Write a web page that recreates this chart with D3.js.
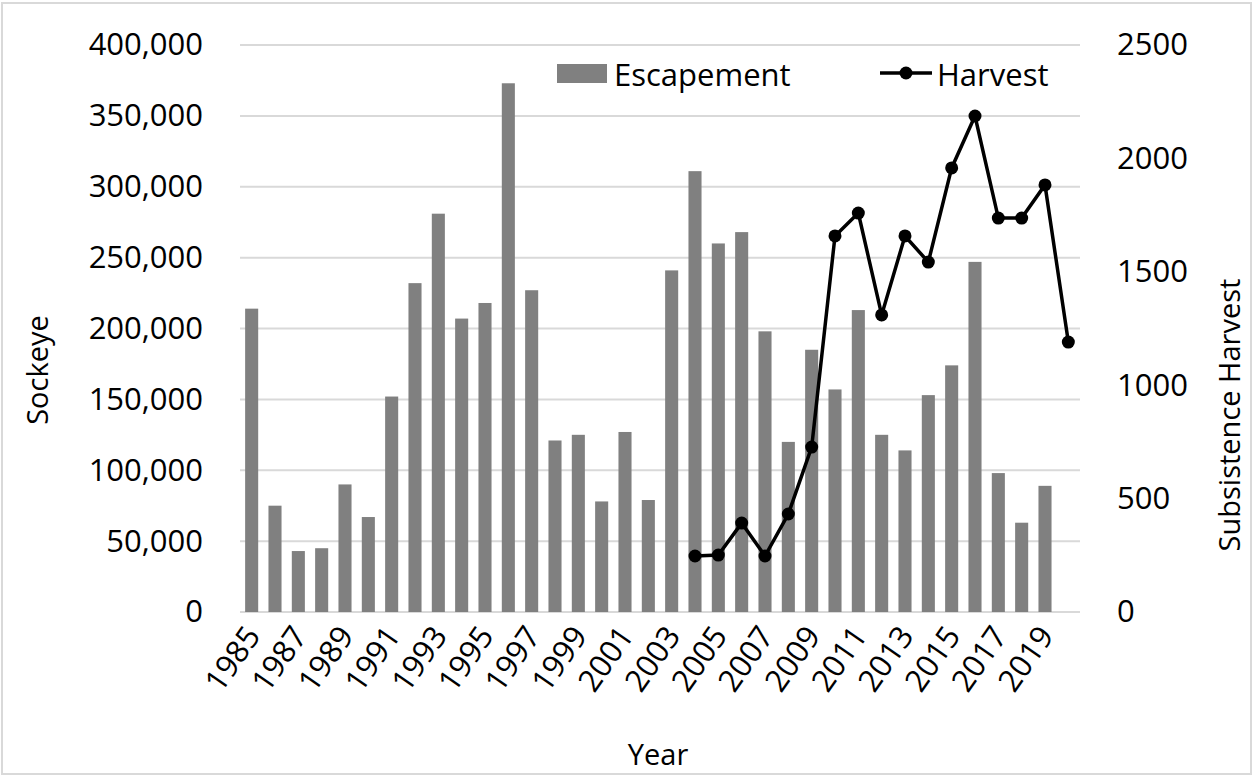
<!DOCTYPE html>
<html>
<head>
<meta charset="utf-8">
<script src="https://cdn.jsdelivr.net/npm/d3@7"></script>
<style>
  body { margin: 0; background: #fff; }
  svg { font-family: "Open Sans", "Noto Sans", sans-serif; }
</style>
</head>
<body>
<svg width="1255" height="778"></svg>
<script>
var years = d3.range(1985, 2021);
var escapement = [214000, 75000, 43000, 45000, 90000, 67000, 152000, 232000, 281000, 207000,
                  218000, 373000, 227000, 121000, 125000, 78000, 127000, 79000, 241000, 311000,
                  260000, 268000, 198000, 120000, 185000, 157000, 213000, 125000, 114000, 153000,
                  174000, 247000, 98000, 63000, 89000, null];
var harvestYears = [2004, 2005, 2006, 2007, 2008, 2009, 2010, 2011, 2012, 2013, 2014, 2015, 2016, 2017, 2018, 2019, 2020];
var harvest = [247, 251, 392, 247, 432, 727, 1658, 1759, 1310, 1658, 1543, 1958, 2187, 1737, 1737, 1883, 1190];
var leftTicks = [0, 50000, 100000, 150000, 200000, 250000, 300000, 350000, 400000];
var rightTicks = [0, 500, 1000, 1500, 2000, 2500];

var margin = {left: 240, right: 1080, top: 45, bottom: 612};
var fontSize = 31;

var svg = d3.select('svg');

svg.append('rect')
    .attr('x', 2).attr('y', 3).attr('width', 1249).attr('height', 771)
    .attr('fill', 'none').attr('stroke', '#d9d9d9').attr('stroke-width', 2);

var x = d3.scaleBand()
    .domain(years)
    .range([margin.left, margin.right])
    .paddingInner(0.44)
    .paddingOuter(0.22);

var yL = d3.scaleLinear().domain([0, 400000]).range([margin.bottom, margin.top]);
var yR = d3.scaleLinear().domain([0, 2500]).range([margin.bottom, margin.top]);

// gridlines
svg.append('g')
  .selectAll('line')
  .data(leftTicks)
  .enter().append('line')
    .attr('x1', margin.left).attr('x2', margin.right)
    .attr('y1', function(d) { return yL(d); })
    .attr('y2', function(d) { return yL(d); })
    .attr('stroke', '#d9d9d9')
    .attr('stroke-width', 2);

// left axis
var leftAxis = d3.axisLeft(yL)
    .tickValues(leftTicks)
    .tickSize(0)
    .tickPadding(37)
    .tickFormat(d3.format(','));
svg.append('g')
    .attr('transform', 'translate(' + margin.left + ',0)')
    .call(leftAxis)
    .call(function(g) { g.select('.domain').remove(); })
    .selectAll('text')
      .attr('font-size', fontSize)
      .attr('fill', '#000')
      .attr('font-family', '"Open Sans", sans-serif');

// right axis
var rightAxis = d3.axisRight(yR)
    .tickValues(rightTicks)
    .tickSize(0)
    .tickPadding(37)
    .tickFormat(d3.format('d'));
svg.append('g')
    .attr('transform', 'translate(' + margin.right + ',0)')
    .call(rightAxis)
    .call(function(g) { g.select('.domain').remove(); })
    .selectAll('text')
      .attr('font-size', fontSize)
      .attr('fill', '#000')
      .attr('font-family', '"Open Sans", sans-serif');

// bars
svg.append('g')
  .selectAll('rect')
  .data(years.map(function(y, i) { return {year: y, value: escapement[i]}; })
              .filter(function(d) { return d.value != null; }))
  .enter().append('rect')
    .attr('x', function(d) { return x(d.year); })
    .attr('width', x.bandwidth())
    .attr('y', function(d) { return yL(d.value); })
    .attr('height', function(d) { return yL(0) - yL(d.value); })
    .attr('fill', '#808080');

// x axis labels
var xAxis = d3.axisBottom(x)
    .tickValues(years.filter(function(y) { return (y - 1985) % 2 === 0; }))
    .tickSize(0)
    .tickPadding(0);
svg.append('g')
    .attr('transform', 'translate(0,' + margin.bottom + ')')
    .call(xAxis)
    .call(function(g) { g.select('.domain').remove(); })
    .selectAll('text')
      .attr('font-size', fontSize)
      .attr('fill', '#000')
      .attr('font-family', '"Open Sans", sans-serif')
      .attr('text-anchor', 'end')
      .attr('dy', 0)
      .attr('transform', 'translate(10,24) rotate(-55)');

// harvest line
var data2 = harvestYears.map(function(y, i) { return {year: y, value: harvest[i]}; });
var line = d3.line()
    .x(function(d) { return x(d.year) + x.bandwidth() / 2; })
    .y(function(d) { return yR(d.value); });

svg.append('path')
    .datum(data2)
    .attr('d', line)
    .attr('fill', 'none')
    .attr('stroke', '#000')
    .attr('stroke-width', 3.5);

svg.append('g')
  .selectAll('circle')
  .data(data2)
  .enter().append('circle')
    .attr('cx', function(d) { return x(d.year) + x.bandwidth() / 2; })
    .attr('cy', function(d) { return yR(d.value); })
    .attr('r', 6.5)
    .attr('fill', '#000');

// axis titles
svg.append('text')
    .attr('transform', 'translate(48,370) rotate(-90)')
    .attr('text-anchor', 'middle')
    .attr('font-size', 29)
    .text('Sockeye');

svg.append('text')
    .attr('transform', 'translate(1240,415) rotate(-90)')
    .attr('text-anchor', 'middle')
    .attr('font-size', 29)
    .text('Subsistence Harvest');

svg.append('text')
    .attr('x', 658).attr('y', 765)
    .attr('text-anchor', 'middle')
    .attr('font-size', 29)
    .text('Year');

// legend
var legend = svg.append('g');
legend.append('rect')
    .attr('x', 557).attr('y', 64).attr('width', 50).attr('height', 19)
    .attr('fill', '#808080');
legend.append('text')
    .attr('x', 614).attr('y', 86)
    .attr('font-size', fontSize)
    .text('Escapement');
legend.append('line')
    .attr('x1', 880).attr('x2', 932).attr('y1', 73).attr('y2', 73)
    .attr('stroke', '#000').attr('stroke-width', 3.5);
legend.append('circle')
    .attr('cx', 906).attr('cy', 73).attr('r', 6.5).attr('fill', '#000');
legend.append('text')
    .attr('x', 937).attr('y', 86)
    .attr('font-size', fontSize)
    .text('Harvest');
</script>
</body>
</html>
